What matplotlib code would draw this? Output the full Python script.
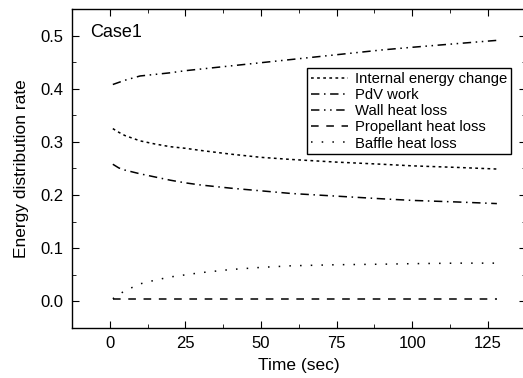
import matplotlib
matplotlib.use('Agg')
import matplotlib.pyplot as plt
from matplotlib.ticker import MultipleLocator

plt.rcParams['font.family'] = ['Liberation Sans', 'DejaVu Sans']

# values
time = [1, 3, 5, 10, 15, 20, 25, 30, 40, 50, 60, 75, 90, 100, 115, 128]
internal = [0.325, 0.318, 0.312, 0.302, 0.296, 0.291, 0.288, 0.284, 0.277,
            0.271, 0.267, 0.262, 0.258, 0.255, 0.252, 0.249]
pdv = [0.258, 0.251, 0.247, 0.240, 0.234, 0.228, 0.223, 0.219, 0.213,
       0.208, 0.203, 0.198, 0.193, 0.190, 0.187, 0.184]
wall = [0.408, 0.412, 0.416, 0.424, 0.427, 0.430, 0.434, 0.437, 0.443,
        0.449, 0.455, 0.464, 0.473, 0.478, 0.485, 0.491]
propellant = [0.005] * len(time)
baffle = [0.005, 0.013, 0.020, 0.033, 0.040, 0.046, 0.050, 0.054, 0.060,
          0.064, 0.067, 0.069, 0.070, 0.071, 0.072, 0.072]

labels = ['Internal energy change', 'PdV work', 'Wall heat loss',
          'Propellant heat loss', 'Baffle heat loss']

fig = plt.figure(figsize=(5.23, 3.78), dpi=100)
# right edge of the axes sits just outside the picture, as in the reference
ax = fig.add_axes([72 / 523, 50 / 378, 453.6 / 523, 319 / 378])

lw = 1.1
ax.plot(time, internal, color='black', lw=lw, ls=(0, (1.8, 2.2)), label=labels[0])
ax.plot(time, pdv, color='black', lw=lw, ls=(0, (5.5, 3, 1, 3)), label=labels[1])
ax.plot(time, wall, color='black', lw=lw, ls=(0, (5.5, 3, 1, 3, 1, 3)), label=labels[2])
ax.plot(time, propellant, color='black', lw=lw, ls=(0, (5, 5)), label=labels[3])
ax.plot(time, baffle, color='black', lw=lw, ls=(0, (1, 6)), label=labels[4])

ax.set_xlim(-12.5, 137.5)
ax.set_ylim(-0.05, 0.55)
ax.xaxis.set_major_locator(MultipleLocator(25))
ax.xaxis.set_minor_locator(MultipleLocator(12.5))
ax.yaxis.set_major_locator(MultipleLocator(0.1))
ax.yaxis.set_minor_locator(MultipleLocator(0.05))
ax.tick_params(which='both', direction='in', top=True, right=True, labelsize=12)
ax.tick_params(which='major', length=5, pad=6)
ax.tick_params(which='minor', length=3)
for s in ax.spines.values():
    s.set_linewidth(1.0)

ax.set_xlabel('Time (sec)', fontsize=12.5, labelpad=5)
ax.set_ylabel('Energy distribution rate', fontsize=12.5, labelpad=8)
ax.text((90 - 72) / 453.6, (328 - 33) / 319, 'Case1', transform=ax.transAxes,
        fontsize=13, va='center')

leg = ax.legend(loc='upper left', bbox_to_anchor=((307 - 72) / 453.6, (328 - 68) / 319),
                fontsize=10.7, frameon=True, fancybox=False, edgecolor='black',
                framealpha=1, handlelength=2.5, borderpad=0.25, labelspacing=0.15,
                handletextpad=0.5, borderaxespad=0)
leg.get_frame().set_linewidth(1.0)

fig.savefig('out.png', dpi=100)
